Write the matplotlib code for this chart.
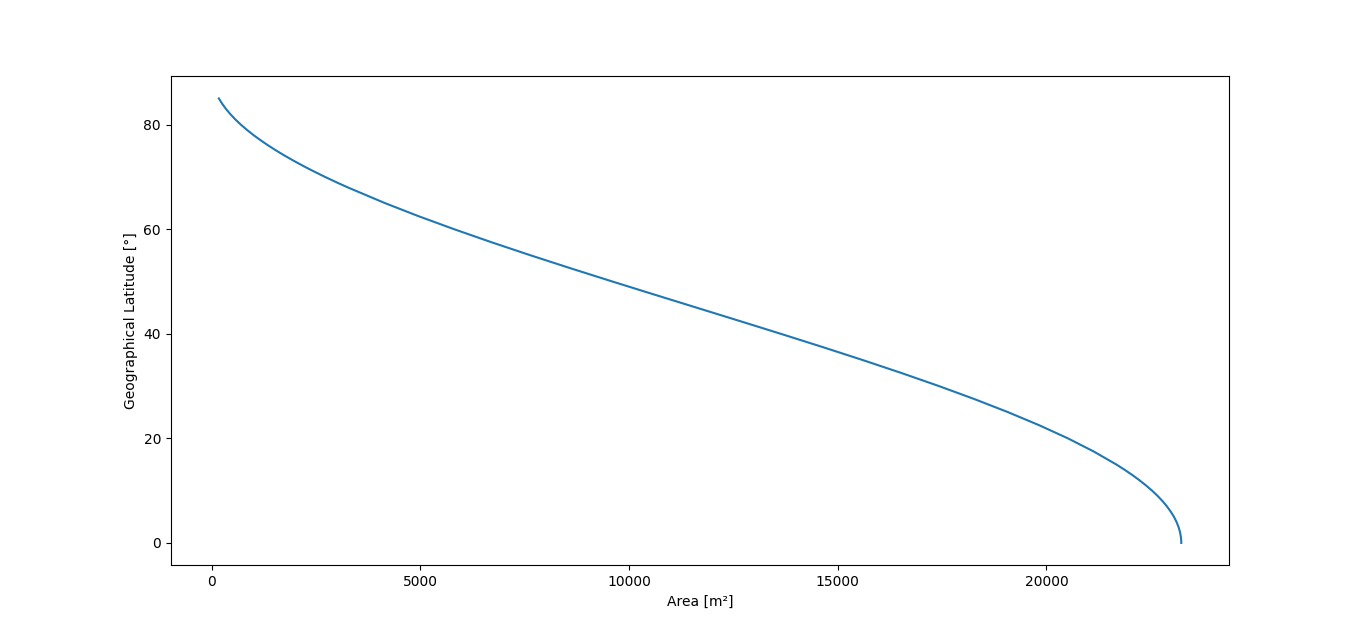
import matplotlib
matplotlib.use('Agg')
import matplotlib.pyplot as plt

# latitude [deg] and the matching area [m^2]
latitude = [85, 84, 83, 82, 81, 80, 79, 78, 77, 76, 75, 74, 73, 72, 71, 70, 69, 68,
            65, 62.5, 60, 57.5, 55, 52.5, 50, 47.5, 45, 42.5, 40, 37.5, 35, 32.5, 30,
            27.5, 25, 22.5, 20, 17.5,
            15, 14, 13, 12, 11, 10, 9, 8, 7, 6, 5, 4, 3, 2, 1, 0.5, 0]
area = [176, 254, 345, 450, 568, 700, 846, 1004, 1176, 1360, 1556, 1765, 1986, 2218,
        2462, 2717, 2983, 3260,
        4149, 4953, 5808, 6706, 7642, 8609, 9598, 10603, 11615, 12627, 13632, 14621,
        15588, 16524, 17423, 18277, 19081, 19828, 20513, 21129,
        21674, 21870, 22055, 22226, 22384, 22530, 22662, 22780, 22885, 22976, 23054,
        23117, 23166, 23202, 23223, 23228, 23230]

fig, ax = plt.subplots(figsize=(13.66, 6.35), dpi=100)
ax.plot(area, latitude)
ax.set_xlabel("Area [m²]")
ax.set_ylabel("Geographical Latitude [°]")

plt.savefig('out.png', dpi=100)
